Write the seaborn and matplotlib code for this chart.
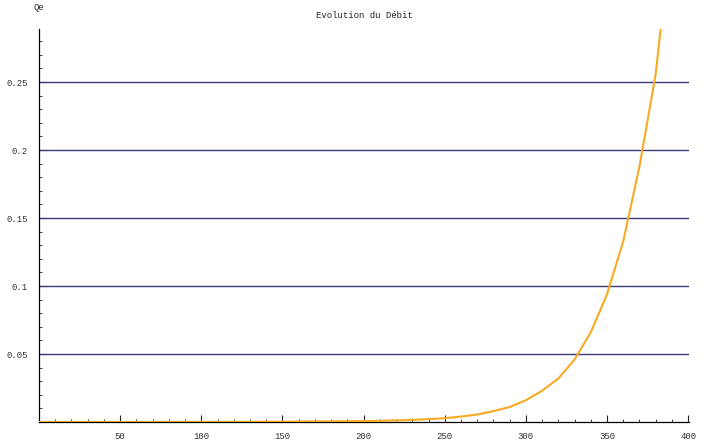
import matplotlib
matplotlib.use("Agg")
import matplotlib.pyplot as plt
from matplotlib.ticker import MultipleLocator, FixedLocator
import seaborn as sns
import pandas as pd

# Data
temps = [0, 20, 40, 60, 80, 100, 120, 140, 160, 180, 200, 210, 220, 230, 240,
         250, 260, 270, 280, 290, 300, 310, 320, 330, 340, 350, 360, 370, 380, 383]
debit = [0.0, 0.0, 0.0, 0.0, 0.0001, 0.0001, 0.0001, 0.0002, 0.0003, 0.0005, 0.0007,
         0.0009, 0.0012, 0.0016, 0.0021, 0.0028, 0.004, 0.0055, 0.008, 0.011,
         0.016, 0.023, 0.032, 0.046, 0.066, 0.094, 0.133, 0.188, 0.256, 0.289]
x_ticks = [50, 100, 150, 200, 250, 300, 350, 400]
y_ticks = [0.05, 0.1, 0.15, 0.2, 0.25]
y_tick_labels = ["0.05", "0.1", "0.15", "0.2", "0.25"]
title = "Evolution du Débit"
y_label = "Qe"

df = pd.DataFrame({"t": temps, "Qe": debit})

sns.set_style("white")
plt.rcParams["font.family"] = ["Liberation Mono", "DejaVu Sans Mono"]

W, H = 705, 444
fig = plt.figure(figsize=(W / 100, H / 100), dpi=100)
ax = fig.add_axes([39 / W, (H - 422) / H, (689 - 39) / W, (422 - 29) / H])

for yv in y_ticks:
    ax.axhline(yv, color="#3a3a74", lw=1.0, zorder=1)

sns.lineplot(data=df, x="t", y="Qe", ax=ax, color="#f7aa22", lw=1.5, zorder=3)

ax.set_xlim(0, 400.5)
ax.set_ylim(0, 0.289)
ax.xaxis.set_major_locator(FixedLocator(x_ticks))
ax.xaxis.set_minor_locator(MultipleLocator(10))
ax.yaxis.set_major_locator(FixedLocator(y_ticks))
ax.yaxis.set_minor_locator(MultipleLocator(0.01))
ax.set_yticklabels(y_tick_labels)
ax.set_xticklabels([str(v) for v in x_ticks])

ax.tick_params(axis="both", which="major", direction="in", length=5, width=0.8,
               color="#222222", labelsize=6.5, labelcolor="#333333", pad=6)
ax.tick_params(axis="both", which="minor", direction="in", length=2.5, width=0.6,
               color="#222222")
ax.tick_params(axis="y", which="major", pad=8)
ax.tick_params(axis="x", which="major", pad=7)
ax.tick_params(bottom=True, left=True, which="both")

for s in ["top", "right"]:
    ax.spines[s].set_visible(False)
for s in ["left", "bottom"]:
    ax.spines[s].set_color("black")
    ax.spines[s].set_linewidth(0.9)

ax.set_xlabel("")
ax.set_ylabel("")
ax.set_title(title, fontsize=6.5, pad=8, color="#222222")
fig.text(39 / W, 1 - 7 / H, y_label, ha="center", va="center", fontsize=6.5,
         color="#222222")

fig.savefig("out.png", dpi=100)
